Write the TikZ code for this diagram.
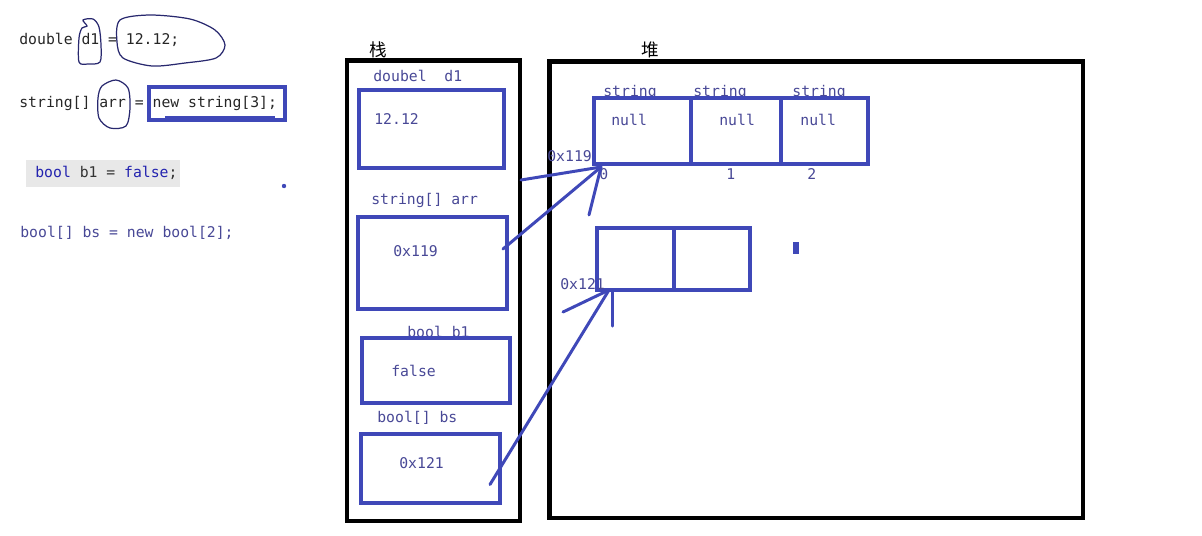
\documentclass[tikz,border=0pt]{standalone}
\usepackage{fontspec}
\setmonofont{DejaVu Sans Mono}
\newfontfamily\cjk{Noto Sans CJK SC}
\usetikzlibrary{calc,positioning}
\definecolor{penblue}{RGB}{63,72,184}
\definecolor{codeblue}{RGB}{72,72,150}
\definecolor{kwblue}{RGB}{35,35,175}
\definecolor{hlgray}{RGB}{232,232,232}
\definecolor{pencil}{RGB}{40,40,110}
\tikzset{%
	cell/.style     = {draw=penblue, line width=2pt, rectangle, outer sep=0pt, inner sep=0pt}, % memory slot
	frame/.style    = {draw=black, line width=2.8pt, rectangle, inner sep=0pt}, % stack / heap
	code/.style     = {font=\ttfamily\fontsize{8.4}{10}\selectfont, text=codeblue, inner sep=0pt, anchor=west}, % text
	title/.style    = {font=\cjk\fontsize{10}{12}\selectfont, inner sep=0pt}, % 栈 / 堆
	ink/.style      = {penblue, line width=1.7pt, line cap=round}, % hand lines
	loop/.style     = {draw=pencil, line width=0.7pt}, % hand circles
}
\begin{document}
\begin{tikzpicture}[x=0.02cm,y=-0.02cm]
	\useasboundingbox (0,0) rectangle (1202,535);
	% source code
	\node [code, text=black!85] (c1) at (19,40) {double d1 = 12.12;};
	\node [code, text=black!85] (c2) at (19,103) {string[] arr = new string[3];};
	\node [fill=hlgray, minimum width=3.08cm, minimum height=0.54cm, inner sep=0pt] (hl) at (103,173) {};
	\node [code, text=black!80] (c3) at (35,173) {\textcolor{kwblue}{bool} b1 = \textcolor{kwblue}{false};};
	\node [code] (c4) at (20,233) {bool[] bs = new bool[2];};
	\draw [loop] plot [smooth cycle] coordinates {(83,20) (93,19) (99,27) (101,45) (100,62) (88,64) (79,62) (79,38) (82,28) (87,26)};
	\draw [loop] plot [smooth cycle] coordinates {(120,20) (150,15) (190,19) (215,30) (225,45) (216,58) (185,63) (152,66) (123,58) (117,42)};
	\draw [loop] plot [smooth cycle] coordinates {(102,86) (116,80) (128,88) (130,108) (126,126) (110,128) (99,118) (98,98)};
	\node [cell, minimum width=2.72cm, minimum height=0.66cm] (newbox) at (217,103.5) {};
	\draw [penblue, line width=2.6pt] ($(newbox.south west)+(16,-2)$) -- ($(newbox.south east)+(-10,-2)$);
	\fill [penblue] (284,186) circle (2.2);
	% stack
	\node [frame, minimum width=3.46cm, minimum height=9.22cm] (stack) at (433.5,290.5) {};
	\node [title] (tstack) at (378,50) {栈};
	\node [code] at (373,76) (ld1) {doubel\ \ d1};
	\node [cell, minimum width=2.9cm, minimum height=1.56cm] (d1) at (431.5,129) {};
	\node [code] at (374,119) (vd1) {12.12};
	\node [code] at (371,200) (larr) {string[] arr};
	\node [cell, minimum width=2.98cm, minimum height=1.84cm] (arr) at (432.5,263) {};
	\node [code] at (393,251) (varr) {0x119};
	\node [code] at (407,332) (lb1) {bool b1};
	\node [cell, minimum width=2.96cm, minimum height=1.3cm] (b1) at (436,370.5) {};
	\node [code] at (391,371) (vb1) {false};
	\node [code] at (377,418) (lbs) {bool[] bs};
	\node [cell, minimum width=2.78cm, minimum height=1.38cm] (bs) at (430.5,468.5) {};
	\node [code] at (399,463) (vbs) {0x121};
	% heap
	\node [frame, minimum width=10.68cm, minimum height=9.14cm] (heap) at (816,289.5) {};
	\node [title] (theap) at (650,50) {堆};
	\node [code] at (603,92) (t0) {string};
	\node [code] at (693,92) (t1) {string};
	\node [code] at (792,92) (t2) {string};
	\node [cell, minimum width=1.94cm, minimum height=1.32cm] (s0) at (642.5,131) {};
	\node [cell, minimum width=1.8cm, minimum height=1.32cm] (s1) [right=0pt of s0] {};
	\node [cell, minimum width=1.74cm, minimum height=1.32cm] (s2) [right=0pt of s1] {};
	\node [code] at (611,120) (n0) {null};
	\node [code] at (719,120) (n1) {null};
	\node [code] at (800,120) (n2) {null};
	\node [code] at (599,174) (i0) {0};
	\node [code] at (726,174) (i1) {1};
	\node [code] at (807,174) (i2) {2};
	\node [code] at (547,156) (a119) {0x119};
	\node [cell, minimum width=1.54cm, minimum height=1.24cm] (b0) at (635.5,259) {};
	\node [cell, minimum width=1.52cm, minimum height=1.24cm] (bb1) [right=0pt of b0] {};
	\node [code] at (560,284) (a121) {0x121};
	\fill [penblue] (793,242) rectangle (799,254);
	% references
	\coordinate (p119) at (601,167);
	\coordinate (p121) at (609,290);
	\draw [ink] (521,180) -- (p119);
	\draw [ink] ($(arr.east)+(-4,-14)$) -- (p119);
	\draw [ink] (589,215) -- (p119);
	\draw [ink] ($(bs.east)+(-10,16)$) -- (p121);
	\draw [ink] (563,312) -- (p121);
	\draw [ink] ($(p121)+(3,2)$) -- ++(0,34);
\end{tikzpicture}
\end{document}
